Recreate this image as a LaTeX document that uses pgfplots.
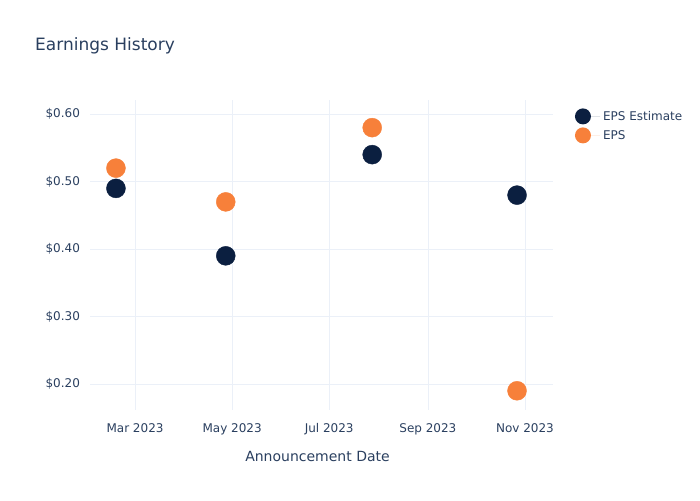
\documentclass[border=0pt]{standalone}
\usepackage{pgfplots}
\pgfplotsset{compat=1.18}
\usepackage{fontspec}
\setmainfont{DejaVu Sans}
\definecolor{txt}{HTML}{2A3F5F}
\definecolor{navy}{HTML}{0B1F40}
\definecolor{orng}{HTML}{F7803A}
\definecolor{gridc}{HTML}{EBF0F8}
\begin{document}
\begin{tikzpicture}[x=1pt,y=1pt]
\path[use as bounding box] (0,0) rectangle (700,500);
\begin{axis}[
  at={(90pt,90pt)}, anchor=south west,
  scale only axis, width=463pt, height=310pt,
  xmin=30.7, xmax=321.6, ymin=0.1615, ymax=0.621,
  axis line style={draw=none},
  tick style={draw=none},
  grid=major, grid style={gridc, line width=0.8pt},
  xtick={59,120,181,243,304},
  xticklabels={Mar 2023,May 2023,Jul 2023,Sep 2023,Nov 2023},
  ytick={0.2,0.3,0.4,0.5,0.6},
  yticklabels={\$0.20,\$0.30,\$0.40,\$0.50,\$0.60},
  ticklabel style={font=\fontsize{12}{14}\selectfont, text=txt},
  xticklabel style={yshift=-10pt},
  yticklabel style={xshift=-6.5pt},
  xlabel={Announcement Date},
  xlabel style={font=\fontsize{14}{16}\selectfont, text=txt, at={(axis description cs:0.5,0)}, anchor=center, yshift=-46pt, xshift=-4pt},
  legend style={at={(1.047,0.98)}, anchor=north west, draw=none, fill=none,
    font=\fontsize{12}{14}\selectfont, text=txt, row sep=3pt,
    inner xsep=0pt, nodes={inner xsep=3pt}},
  legend cell align=left,
  legend image code/.code={\fill[#1] (0.25cm,0) circle (8pt);\path (0.25cm,0) -- (0.5cm+10pt,0);},
  clip=false,
]
\addplot[only marks, mark=*, mark size=9.5pt, draw=none, fill=navy, color=navy] coordinates {
 (47,0.49) (116,0.39) (208,0.54) (299,0.48)};
\addlegendentry{EPS Estimate}
\addplot[only marks, mark=*, mark size=9.5pt, draw=none, fill=orng, color=orng] coordinates {
 (47,0.52) (116,0.47) (208,0.58) (299,0.19)};
\addlegendentry{EPS}
\end{axis}
\node[anchor=west, text=txt, font=\fontsize{17}{20}\selectfont, inner sep=0pt] at (35,454) {Earnings History};
\end{tikzpicture}
\end{document}
